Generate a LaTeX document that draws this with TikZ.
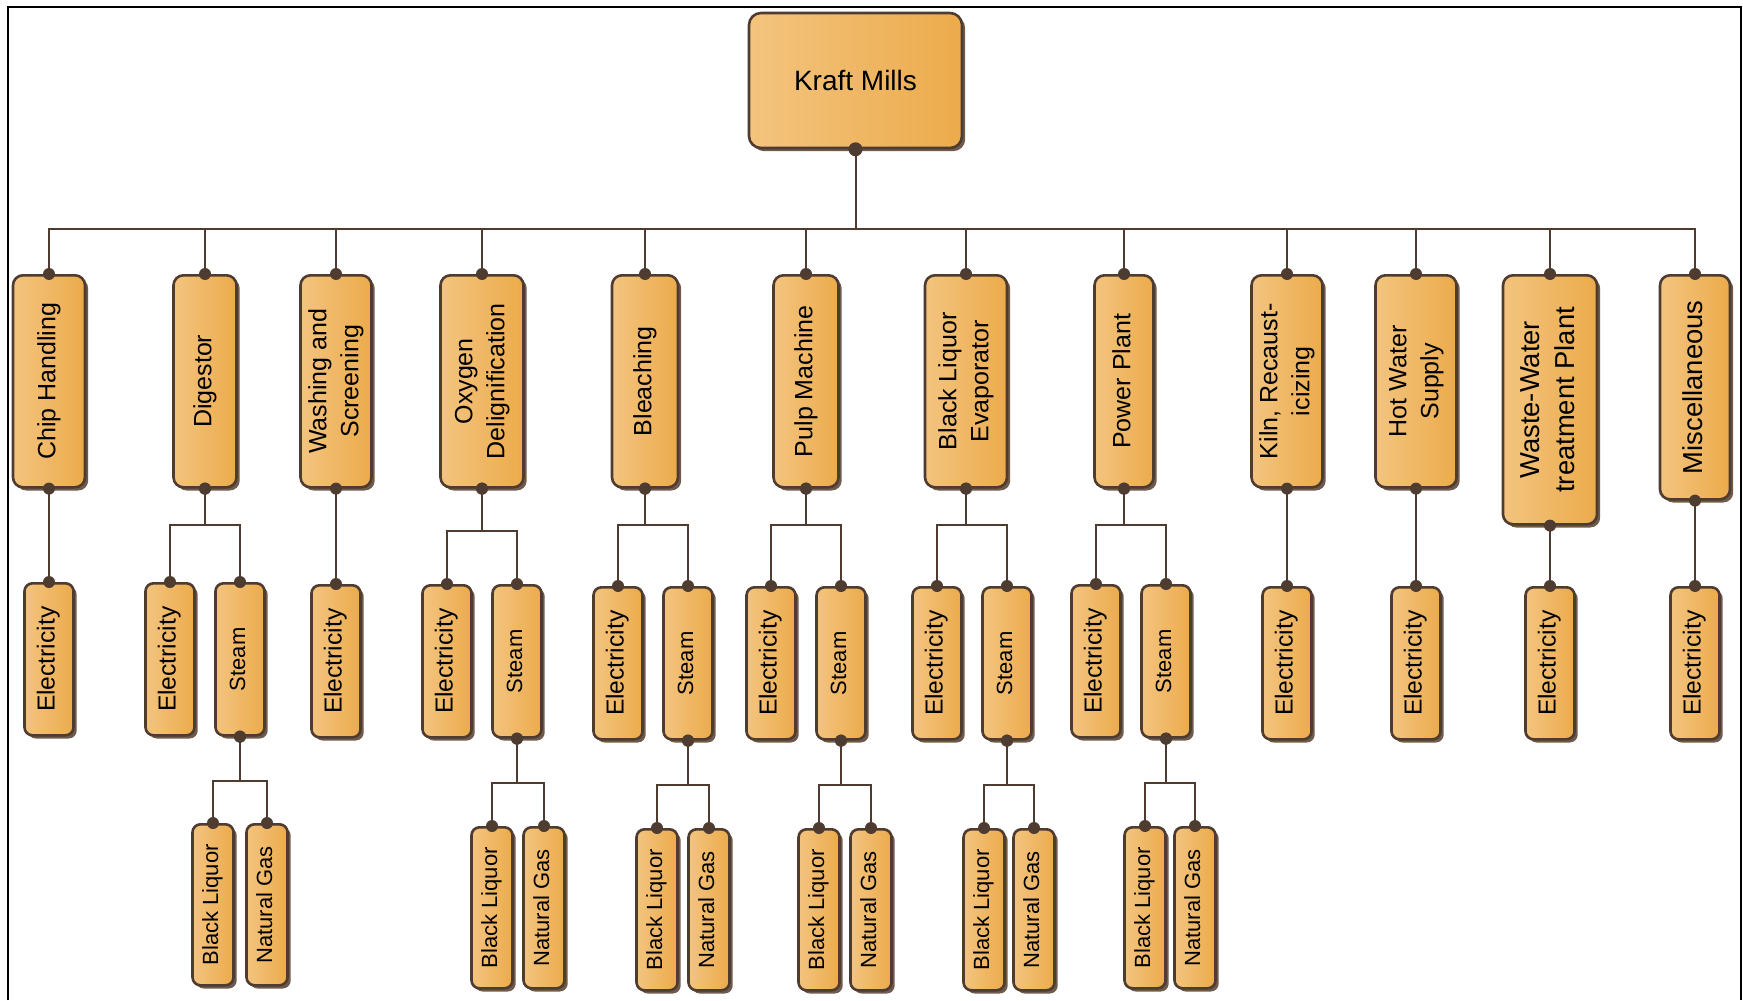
\documentclass[tikz,border=0pt]{standalone}
\usepackage{fontspec}
\setmainfont{Liberation Sans}
\usepackage{graphicx}
\usetikzlibrary{shadows,positioning}
\definecolor{kmlight}{HTML}{F3C47F}
\definecolor{kmdark}{HTML}{ECAB4B}
\definecolor{kmline}{HTML}{4E3C31}
\definecolor{kmshadow}{HTML}{6F5B4D}
\newcommand{\vlabel}[1]{\rotatebox{90}{\begin{tabular}{@{}c@{}}#1\end{tabular}}}
\newcommand{\fork}[3]{\draw[link] (#1.south) -- ++(0,#3) -| (#2.north);
  \fill[kmline] (#1.south) circle (3pt) (#2.north) circle (3pt);}

\begin{document}
\begin{tikzpicture}[x=0.5pt,y=-0.5pt]
\tikzset{unit/.style={draw=kmline,line width=1.3pt,rounded corners=5pt,left color=kmlight,right color=kmdark,
    drop shadow={fill=kmshadow,opacity=1,shadow xshift=1.6pt,shadow yshift=-1.6pt},inner sep=0pt,text=black},
  dept/.style={unit,anchor=north,minimum height=106pt,minimum width=33pt,font=\fontsize{12.5}{16}\selectfont},
  source/.style={unit,anchor=north,rounded corners=4pt,minimum width=24.5pt,minimum height=76pt,font=\fontsize{12.3}{14}\selectfont},
  fuel/.style={unit,anchor=north,rounded corners=4pt,minimum width=20.5pt,minimum height=80.5pt,font=\fontsize{11}{13}\selectfont},
  link/.style={draw=kmline,line width=1pt}}
\useasboundingbox (0,0) rectangle (1743,1000);
\draw[line width=1pt] (8,1000) -- (8,7) -- (1741,7) -- (1741,1000);

% root
\node[unit,minimum width=106.5pt,minimum height=67.5pt,rounded corners=6pt,font=\fontsize{14}{17}\selectfont] (kraft) at (855.5,80.5) {Kraft Mills};

% departments
\node[dept,minimum width=36pt] (chip) at (49,274) {\vlabel{Chip Handling}};
\node[dept,minimum width=31.5pt] (digestor) at (205,274) {\vlabel{Digestor}};
\node[dept,minimum width=35.5pt] (washing) at (336,274) {\vlabel{Washing and\\Screening}};
\node[dept,minimum width=41.5pt] (oxygen) at (482,274) {\vlabel{Oxygen\\Delignification}};
\node[dept,minimum width=33pt] (bleach) at (645,274) {\vlabel{Bleaching}};
\node[dept,minimum width=32.5pt] (pulp) at (806,274) {\vlabel{Pulp Machine}};
\node[dept,minimum width=41pt] (evap) at (966,274) {\vlabel{Black Liquor\\Evaporator}};
\node[dept,minimum width=29.5pt] (power) at (1124,274) {\vlabel{Power Plant}};
\node[dept,minimum width=35.5pt] (kiln) at (1287,274) {\vlabel{Kiln, Recaust-\\icizing}};
\node[dept,minimum width=40.5pt] (hotwater) at (1416,274) {\vlabel{Hot Water\\Supply}};
\node[dept,minimum width=47pt,minimum height=124.5pt,font=\fontsize{13.7}{17.5}\selectfont] (waste) at (1550,274) {\vlabel{Waste-Water\\treatment Plant}};
\node[dept,minimum width=35pt,minimum height=112pt,font=\fontsize{13.7}{17.5}\selectfont] (misc) at (1695,274) {\vlabel{Miscellaneous}};

% energy sources
\node[source] (chipel) at (49,582) {\vlabel{Electricity}};
\node[source] (digel) at (170,582) {\vlabel{Electricity}};
\node[source,font=\fontsize{11}{13}\selectfont] (digst) at (240,582) {\vlabel{Steam}};
\node[source] (washel) at (336,584) {\vlabel{Electricity}};
\node[source] (oxyel) at (447,584) {\vlabel{Electricity}};
\node[source,font=\fontsize{11}{13}\selectfont] (oxyst) at (517,584) {\vlabel{Steam}};
\node[source] (bleel) at (618,586) {\vlabel{Electricity}};
\node[source,font=\fontsize{11}{13}\selectfont] (blest) at (688,586) {\vlabel{Steam}};
\node[source] (pulpel) at (771,586) {\vlabel{Electricity}};
\node[source,font=\fontsize{11}{13}\selectfont] (pulpst) at (841,586) {\vlabel{Steam}};
\node[source] (evapel) at (937,586) {\vlabel{Electricity}};
\node[source,font=\fontsize{11}{13}\selectfont] (evapst) at (1007,586) {\vlabel{Steam}};
\node[source] (powel) at (1096,584) {\vlabel{Electricity}};
\node[source,font=\fontsize{11}{13}\selectfont] (powst) at (1166,584) {\vlabel{Steam}};
\node[source] (kilnel) at (1287,586) {\vlabel{Electricity}};
\node[source] (hotel) at (1416,586) {\vlabel{Electricity}};
\node[source] (wasteel) at (1550,586) {\vlabel{Electricity}};
\node[source] (miscel) at (1695,586) {\vlabel{Electricity}};

% steam fuels
\node[fuel] (digbl) at (213,823) {\vlabel{Black Liquor}};
\node[fuel] (digng) at (267,823) {\vlabel{Natural Gas}};
\node[fuel] (oxybl) at (492,826) {\vlabel{Black Liquor}};
\node[fuel] (oxyng) at (544,826) {\vlabel{Natural Gas}};
\node[fuel] (blebl) at (657,828) {\vlabel{Black Liquor}};
\node[fuel] (bleng) at (709,828) {\vlabel{Natural Gas}};
\node[fuel] (pulpbl) at (819,828) {\vlabel{Black Liquor}};
\node[fuel] (pulpng) at (871,828) {\vlabel{Natural Gas}};
\node[fuel] (evapbl) at (984,828) {\vlabel{Black Liquor}};
\node[fuel] (evapng) at (1034,828) {\vlabel{Natural Gas}};
\node[fuel] (powbl) at (1145,826) {\vlabel{Black Liquor}};
\node[fuel] (powng) at (1195,826) {\vlabel{Natural Gas}};

% connectors
\fork{kraft}{chip}{80} \fork{kraft}{digestor}{80} \fork{kraft}{washing}{80}
\fork{kraft}{oxygen}{80} \fork{kraft}{bleach}{80} \fork{kraft}{pulp}{80}
\fork{kraft}{evap}{80} \fork{kraft}{power}{80} \fork{kraft}{kiln}{80}
\fork{kraft}{hotwater}{80} \fork{kraft}{waste}{80} \fork{kraft}{misc}{80}
\fill[kmline] (kraft.south) circle (3.5pt);

\fork{chip}{chipel}{40}
\fork{digestor}{digel}{36} \fork{digestor}{digst}{36}
\fork{washing}{washel}{40}
\fork{oxygen}{oxyel}{42} \fork{oxygen}{oxyst}{42}
\fork{bleach}{bleel}{36} \fork{bleach}{blest}{36}
\fork{pulp}{pulpel}{36} \fork{pulp}{pulpst}{36}
\fork{evap}{evapel}{36} \fork{evap}{evapst}{36}
\fork{power}{powel}{36} \fork{power}{powst}{36}
\fork{kiln}{kilnel}{40}
\fork{hotwater}{hotel}{40}
\fork{waste}{wasteel}{40}
\fork{misc}{miscel}{40}

\fork{digst}{digbl}{44} \fork{digst}{digng}{44}
\fork{oxyst}{oxybl}{44} \fork{oxyst}{oxyng}{44}
\fork{blest}{blebl}{44} \fork{blest}{bleng}{44}
\fork{pulpst}{pulpbl}{44} \fork{pulpst}{pulpng}{44}
\fork{evapst}{evapbl}{44} \fork{evapst}{evapng}{44}
\fork{powst}{powbl}{44} \fork{powst}{powng}{44}
\end{tikzpicture}
\end{document}
